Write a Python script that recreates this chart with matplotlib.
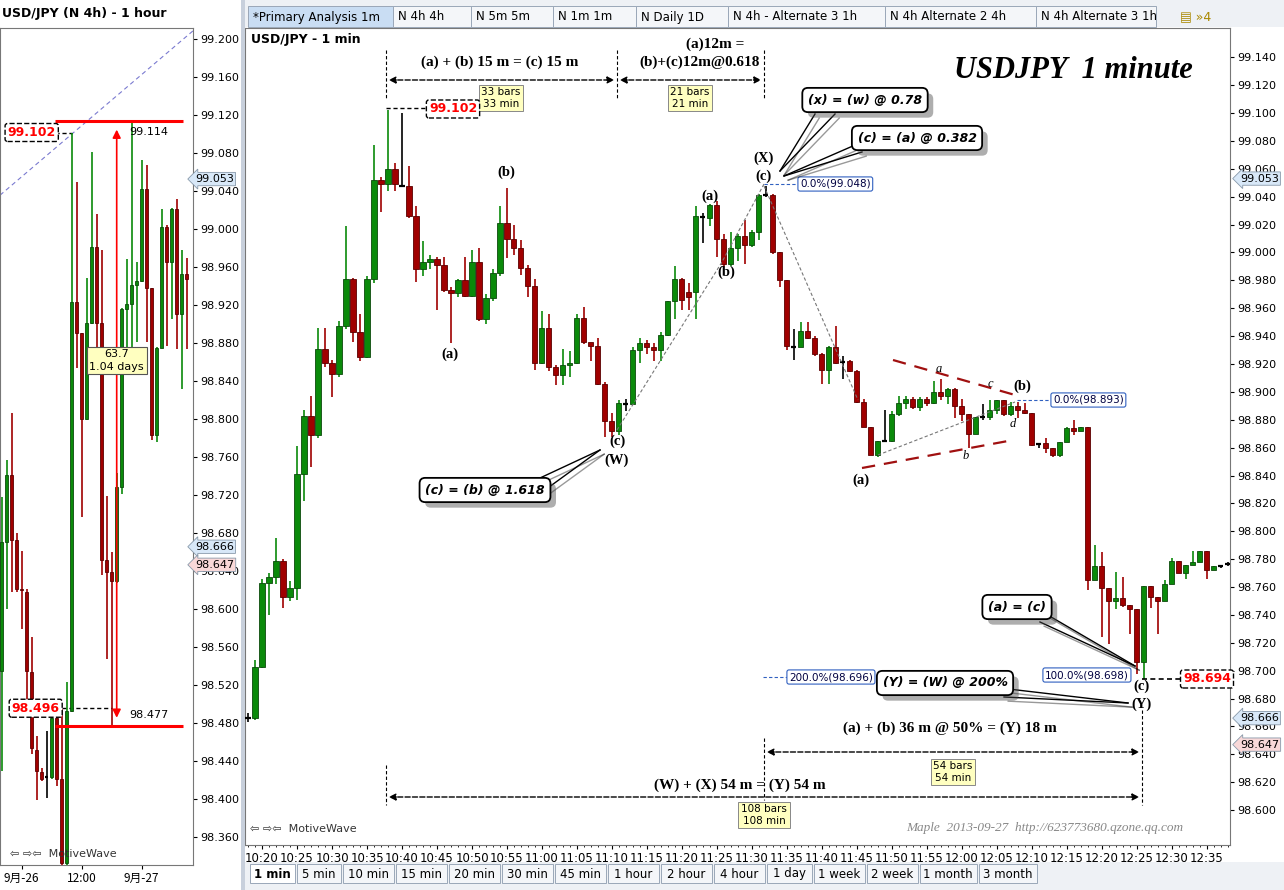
import matplotlib
matplotlib.use("Agg")
import matplotlib.pyplot as plt
import matplotlib.patheffects as pe
from matplotlib.lines import Line2D
from matplotlib.patches import Rectangle
from matplotlib.transforms import blended_transform_factory

W, H = 1284, 890

# 1 minute bars, first bar at 10:18
m_open = [98.666, 98.666, 98.703, 98.763, 98.767, 98.779, 98.753, 98.759, 98.841, 98.883,
          98.869, 98.931, 98.921, 98.913, 98.947, 98.981, 98.943, 98.925, 98.981, 99.052,
          99.049, 99.060, 99.048, 99.048, 99.026, 98.988, 98.993, 98.995, 98.991, 98.973,
          98.971, 98.980, 98.969, 98.993, 98.952, 98.967, 98.985, 99.021, 99.010, 99.003,
          98.989, 98.976, 98.921, 98.946, 98.918, 98.912, 98.919, 98.921, 98.953, 98.936,
          98.933, 98.906, 98.879, 98.872, 98.892, 98.891, 98.930, 98.935, 98.932, 98.930,
          98.941, 98.965, 98.981, 98.972, 98.972, 99.026, 99.025, 99.034, 99.010, 98.992,
          99.003, 99.012, 99.005, 99.015, 99.041, 99.041, 99.000, 98.980, 98.933, 98.932,
          98.944, 98.939, 98.927, 98.916, 98.932, 98.921, 98.922, 98.915, 98.893, 98.875,
          98.855, 98.865, 98.865, 98.884, 98.892, 98.895, 98.889, 98.895, 98.892, 98.900,
          98.897, 98.902, 98.890, 98.884, 98.870, 98.882, 98.882, 98.887, 98.894, 98.884,
          98.890, 98.887, 98.885, 98.862, 98.863, 98.860, 98.855, 98.864, 98.874, 98.872,
          98.875, 98.765, 98.775, 98.759, 98.750, 98.752, 98.747, 98.744, 98.706, 98.761,
          98.753, 98.750, 98.762, 98.779, 98.770, 98.776, 98.778, 98.786, 98.772, 98.775,
          98.776]
m_high = [98.670, 98.708, 98.766, 98.770, 98.795, 98.780, 98.764, 98.861, 98.887, 98.897,
          98.946, 98.946, 98.923, 98.951, 99.019, 98.982, 98.956, 98.983, 99.077, 99.054,
          99.102, 99.064, 99.100, 99.062, 99.033, 99.008, 98.998, 98.997, 98.997, 98.975,
          98.981, 98.997, 99.002, 99.003, 98.970, 98.988, 99.033, 99.046, 99.020, 99.009,
          98.991, 98.981, 98.958, 98.956, 98.919, 98.931, 98.929, 98.956, 98.961, 98.935,
          98.939, 98.907, 98.885, 98.894, 98.895, 98.932, 98.939, 98.937, 98.935, 98.943,
          98.965, 98.990, 98.982, 98.978, 99.033, 99.028, 99.035, 99.037, 99.013, 99.015,
          99.013, 99.023, 99.016, 99.042, 99.048, 99.042, 99.000, 98.980, 98.945, 98.950,
          98.950, 98.940, 98.928, 98.933, 98.947, 98.926, 98.923, 98.916, 98.895, 98.875,
          98.865, 98.887, 98.886, 98.897, 98.897, 98.896, 98.896, 98.896, 98.908, 98.909,
          98.903, 98.903, 98.895, 98.884, 98.882, 98.891, 98.894, 98.894, 98.894, 98.893,
          98.893, 98.892, 98.885, 98.863, 98.867, 98.860, 98.864, 98.875, 98.880, 98.875,
          98.875, 98.790, 98.785, 98.759, 98.771, 98.767, 98.747, 98.744, 98.761, 98.761,
          98.753, 98.765, 98.781, 98.779, 98.776, 98.786, 98.786, 98.786, 98.775, 98.776,
          98.778]
m_low = [98.663, 98.665, 98.702, 98.740, 98.762, 98.745, 98.750, 98.751, 98.822, 98.846,
         98.867, 98.918, 98.896, 98.911, 98.945, 98.936, 98.922, 98.924, 98.978, 99.029,
         99.044, 99.044, 99.047, 99.025, 98.979, 98.983, 98.988, 98.959, 98.972, 98.935,
         98.968, 98.968, 98.968, 98.951, 98.949, 98.965, 98.983, 98.996, 98.998, 98.984,
         98.968, 98.916, 98.920, 98.915, 98.905, 98.905, 98.911, 98.920, 98.934, 98.922,
         98.905, 98.868, 98.868, 98.869, 98.886, 98.891, 98.921, 98.927, 98.922, 98.922,
         98.940, 98.952, 98.959, 98.959, 98.952, 99.007, 99.019, 98.997, 98.990, 98.990,
         98.994, 98.992, 99.004, 99.009, 99.040, 98.999, 98.975, 98.930, 98.923, 98.932,
         98.938, 98.926, 98.906, 98.906, 98.920, 98.909, 98.914, 98.892, 98.875, 98.855,
         98.853, 98.864, 98.864, 98.883, 98.888, 98.888, 98.886, 98.890, 98.891, 98.894,
         98.891, 98.881, 98.879, 98.860, 98.870, 98.880, 98.880, 98.884, 98.883, 98.883,
         98.881, 98.884, 98.861, 98.860, 98.856, 98.853, 98.853, 98.864, 98.869, 98.872,
         98.758, 98.765, 98.724, 98.719, 98.744, 98.746, 98.726, 98.698, 98.694, 98.745,
         98.726, 98.750, 98.762, 98.770, 98.766, 98.776, 98.778, 98.766, 98.772, 98.774,
         98.775]
m_close = [98.666, 98.703, 98.763, 98.767, 98.779, 98.753, 98.759, 98.841, 98.883, 98.869,
           98.931, 98.921, 98.913, 98.947, 98.981, 98.943, 98.925, 98.981, 99.052, 99.049,
           99.060, 99.049, 99.048, 99.026, 98.988, 98.993, 98.995, 98.991, 98.973, 98.971,
           98.980, 98.969, 98.993, 98.952, 98.967, 98.985, 99.021, 99.010, 99.003, 98.989,
           98.976, 98.921, 98.946, 98.918, 98.912, 98.919, 98.921, 98.953, 98.936, 98.933,
           98.906, 98.879, 98.872, 98.892, 98.891, 98.930, 98.935, 98.932, 98.930, 98.941,
           98.965, 98.981, 98.966, 98.968, 99.026, 99.025, 99.034, 99.010, 98.992, 99.003,
           99.012, 99.005, 99.015, 99.041, 99.041, 99.000, 98.980, 98.933, 98.932, 98.944,
           98.939, 98.927, 98.916, 98.932, 98.921, 98.922, 98.915, 98.893, 98.875, 98.855,
           98.865, 98.865, 98.884, 98.892, 98.895, 98.889, 98.895, 98.892, 98.900, 98.897,
           98.902, 98.890, 98.884, 98.870, 98.882, 98.882, 98.887, 98.894, 98.884, 98.890,
           98.887, 98.885, 98.862, 98.863, 98.860, 98.855, 98.864, 98.874, 98.872, 98.875,
           98.765, 98.775, 98.759, 98.750, 98.752, 98.747, 98.744, 98.706, 98.761, 98.753,
           98.750, 98.762, 98.779, 98.770, 98.776, 98.778, 98.786, 98.772, 98.775, 98.775,
           98.777]
m_first_min = 10 * 60 + 18

# 1 hour bars (left panel)
h_open = [98.535, 98.671, 98.741, 98.673, 98.622, 98.618, 98.534, 98.452, 98.429, 98.423,
          98.424, 98.486, 98.422, 98.333, 98.493, 98.924, 98.891, 98.800, 98.902, 98.982,
          98.902, 98.652, 98.639, 98.630, 98.729, 98.916, 98.921, 98.942, 98.946, 99.043,
          98.938, 98.784, 98.875, 99.003, 98.966, 99.022, 98.911, 98.953]
h_high = [98.718, 98.757, 98.807, 98.680, 98.662, 98.622, 98.571, 98.467, 98.433, 98.472,
          98.487, 98.493, 98.495, 98.524, 99.102, 99.050, 98.891, 98.949, 99.081, 99.016,
          98.978, 98.719, 98.660, 98.744, 98.917, 98.969, 99.114, 98.966, 99.073, 99.068,
          98.938, 98.876, 99.022, 99.005, 99.023, 99.032, 98.978, 98.970]
h_low = [98.430, 98.600, 98.618, 98.618, 98.579, 98.503, 98.448, 98.399, 98.419, 98.401,
         98.422, 98.414, 98.330, 98.330, 98.492, 98.854, 98.697, 98.799, 98.900, 98.874,
         98.636, 98.548, 98.477, 98.628, 98.721, 98.875, 98.860, 98.882, 98.945, 98.882,
         98.778, 98.776, 98.875, 98.877, 98.906, 98.874, 98.832, 98.874]
h_close = [98.671, 98.741, 98.673, 98.621, 98.620, 98.535, 98.454, 98.430, 98.422, 98.424,
           98.486, 98.422, 98.333, 98.493, 98.924, 98.891, 98.800, 98.902, 98.982, 98.902,
           98.652, 98.639, 98.630, 98.729, 98.916, 98.921, 98.942, 98.946, 99.043, 98.938,
           98.784, 98.875, 99.003, 98.966, 99.022, 98.911, 98.953, 98.948]
h_ticks = [4, 16, 28]
h_tick_labels = ["9月-26", "12:00", "9月-27"]

top_tabs = ["*Primary Analysis 1m", "N 4h 4h", "N 5m 5m", "N 1m 1m", "N Daily 1D",
            "N 4h - Alternate 3 1h", "N 4h Alternate 2 4h", "N 4h Alternate 3 1h"]
bottom_tabs = ["1 min", "5 min", "10 min", "15 min", "20 min", "30 min", "45 min", "1 hour",
               "2 hour", "4 hour", "1 day", "1 week", "2 week", "1 month", "3 month"]

GREEN = "#0a8a0a"
RED = "#a00000"
CJK = "Noto Sans CJK SC"

fig = plt.figure(figsize=(W / 100, H / 100), dpi=100)
fig.patch.set_facecolor("white")


def txt(x, y, s, **kw):
    return fig.text(x / W, 1 - y / H, s, **kw)


def line(xs, ys, **kw):
    fig.add_artist(Line2D([x / W for x in xs], [1 - y / H for y in ys], **kw))


def rect(x, y, w, h, **kw):
    fig.add_artist(Rectangle((x / W, 1 - (y + h) / H), w / W, h / H, transform=fig.transFigure, **kw))


def candles(ax, o, h, l, c, width):
    for i in range(len(o)):
        if abs(c[i] - o[i]) < 0.0015:
            col = "black"
            ax.vlines(i, l[i], h[i], color=col, lw=1.2, zorder=3)
            ax.hlines((o[i] + c[i]) / 2, i - width / 2, i + width / 2, color=col, lw=1.6, zorder=3)
            continue
        col = GREEN if c[i] > o[i] else RED
        ax.vlines(i, l[i], h[i], color=col, lw=1.2, zorder=3)
        ax.add_patch(Rectangle((i - width / 2, min(o[i], c[i])), width, abs(c[i] - o[i]),
                               fc=col, ec="#0c4a0c" if col == GREEN else "#5a0000", lw=0.6, zorder=4))


# ---------------- left panel ----------------
axl = fig.add_axes([0, 1 - 865 / H, 193 / W, 837 / H])
candles(axl, h_open, h_high, h_low, h_close, 0.55)
axl.set_xlim(-0.34, 38.26)
axl.set_ylim(98.331, 99.212)
axl.yaxis.tick_right()
axl.set_yticks([99.2 - 0.04 * i for i in range(22)])
axl.set_yticklabels(["%.3f" % (99.2 - 0.04 * i) for i in range(22)], fontsize=8)
axl.set_xticks(h_ticks)
axl.set_xticklabels(h_tick_labels, fontsize=8.5, fontfamily=CJK)
axl.tick_params(length=3, pad=2)
for s in axl.spines.values():
    s.set_color("#777777")
# dashed blue diagonal, measure lines
axl.plot([-0.34, 38.26], [99.036, 99.209], ls=(0, (4, 3)), color="#7a7ad0", lw=0.8)
axl.hlines([99.114, 98.477], 10.6, 36.3, color="red", lw=2.2, zorder=5)
axl.annotate("", xy=(23, 99.108), xytext=(23, 98.483),
             arrowprops=dict(arrowstyle="<|-|>", color="red", lw=1.2, mutation_scale=12), zorder=5)
axl.text(25.5, 99.108, "99.114", fontsize=8, va="top")
axl.text(25.5, 98.484, "98.477", fontsize=8, va="bottom")
axl.text(23, 98.862, "63.7\n1.04 days", fontsize=8, ha="center", va="center", linespacing=1.3,
         bbox=dict(boxstyle="square,pad=0.25", fc="#ffffc0", ec="#555555", lw=0.8), zorder=6)
axl.hlines(99.102, 10.6, 14, color="black", lw=1, ls=(0, (3, 2)))
axl.hlines(98.496, 10.6, 22, color="black", lw=1, ls=(0, (3, 2)))
axl.text(6, 99.102, "99.102", color="red", fontsize=9, fontweight="bold", ha="center", va="center",
         bbox=dict(boxstyle="round,pad=0.2", fc="white", ec="black", ls="--", lw=1), zorder=6)
axl.text(6.8, 98.496, "98.496", color="red", fontsize=9, fontweight="bold", ha="center", va="center",
         bbox=dict(boxstyle="round,pad=0.2", fc="white", ec="black", ls="--", lw=1), zorder=6)
bl = blended_transform_factory(axl.transAxes, axl.transData)
for p, fc in [(99.053, "#d8e8f8"), (98.666, "#d8e8f8"), (98.647, "#f8d8d8")]:
    axl.text(1.01, p, "%.3f" % p, transform=bl, fontsize=8, va="center",
             bbox=dict(boxstyle="larrow,pad=0.15", fc=fc, ec="#8899aa", lw=0.6), zorder=7, clip_on=False)
txt(2, 13, "USD/JPY (N 4h) - 1 hour", fontsize=9, fontweight="bold", va="center")
txt(10, 854, "\u21e6 \u21e8\u21e6  MotiveWave", fontsize=8, va="center", color="#333333")

# separator between panels
rect(241, 0, 4, H, fc="#c8d0dc", ec="none")

# ---------------- main panel ----------------
ax = fig.add_axes([245 / W, 1 - 845 / H, 985 / W, 817 / H])
candles(ax, m_open, m_high, m_low, m_close, 0.72)
ax.set_xlim(-0.43, 140.3)
ax.set_ylim(98.575, 99.161)
ax.yaxis.tick_right()
yt = [99.14 - 0.02 * i for i in range(28)]
ax.set_yticks(yt)
ax.set_yticklabels(["%.3f" % v for v in yt], fontsize=8)
xt = [k for k in range(len(m_open)) if (m_first_min + k) % 5 == 0]
ax.set_xticks(xt)
ax.set_xticklabels(["%d:%02d" % divmod(m_first_min + k, 60) for k in xt], fontsize=8.5)
ax.set_xticks(range(len(m_open)), minor=True)
ax.tick_params(length=3, pad=2)
ax.tick_params(which="minor", length=1.5)
for s in ax.spines.values():
    s.set_color("#777777")
br = blended_transform_factory(ax.transAxes, ax.transData)
for p, fc in [(99.053, "#d8e8f8"), (98.666, "#d8e8f8"), (98.647, "#f8d8d8")]:
    ax.text(1.01, p, "%.3f" % p, transform=br, fontsize=8, va="center",
            bbox=dict(boxstyle="larrow,pad=0.15", fc=fc, ec="#8899aa", lw=0.6), zorder=7, clip_on=False)

txt(251, 39, "USD/JPY - 1 min", fontsize=9, fontweight="bold", va="center")
txt(1073, 70, "USDJPY  1 minute", fontsize=22, fontweight="bold", fontstyle="italic",
    fontfamily="Liberation Serif", ha="center", va="center")

serif = dict(fontfamily="Liberation Serif", fontweight="bold", ha="center", va="center")
# top dimension lines
txt(500, 62, "(a) + (b) 15 m = (c) 15 m", fontsize=11, **serif)
txt(715, 44, "(a)12m =", fontsize=11, **serif)
txt(700, 62, "(b)+(c)12m@0.618", fontsize=11, **serif)
for x in [386, 617, 764]:
    line([x, x], [50, 100], color="black", lw=0.8, ls=(0, (3, 2)))
for x0, x1 in [(386, 617), (617, 764)]:
    fig.add_artist(plt.Annotation("", xy=(x1, H - 80), xytext=(x0, H - 80), xycoords="figure pixels",
                                  arrowprops=dict(arrowstyle="<|-|>", color="black", lw=1, ls="--",
                                                  mutation_scale=10)))
yb = dict(fontsize=7.5, ha="center", va="center", linespacing=1.2,
          bbox=dict(boxstyle="square,pad=0.25", fc="#ffffc0", ec="#888888", lw=0.7))
txt(501, 98, "33 bars\n33 min", **yb)
txt(690, 98, "21 bars\n21 min", **yb)

# bottom dimension lines
txt(950, 728, "(a) + (b) 36 m @ 50% = (Y) 18 m", fontsize=11, **serif)
txt(740, 785, "(W) + (X) 54 m = (Y) 54 m", fontsize=11, **serif)
line([764, 764], [738, 800], color="black", lw=0.8, ls=(0, (3, 2)))
line([1142, 1142], [710, 805], color="black", lw=0.8, ls=(0, (3, 2)))
line([386, 386], [765, 805], color="black", lw=0.8, ls=(0, (3, 2)))
for x0, x1, y in [(764, 1142, 752), (386, 1142, 797)]:
    fig.add_artist(plt.Annotation("", xy=(x1, H - y), xytext=(x0, H - y), xycoords="figure pixels",
                                  arrowprops=dict(arrowstyle="<|-|>", color="black", lw=1, ls="--",
                                                  mutation_scale=10)))
txt(953, 772, "54 bars\n54 min", **yb)
txt(764, 815, "108 bars\n108 min", **yb)

# high / low price labels
line([386, 430], [108, 108], color="black", lw=1, ls=(0, (3, 2)))
txt(453, 109, "99.102", color="red", fontsize=9, fontweight="bold", ha="center", va="center",
    bbox=dict(boxstyle="round,pad=0.2", fc="white", ec="black", ls="--", lw=1))
line([1142, 1185], [679, 679], color="black", lw=1.2, ls=(0, (3, 2)))
txt(1207, 679, "98.694", color="red", fontsize=9, fontweight="bold", ha="center", va="center",
    bbox=dict(boxstyle="round,pad=0.2", fc="white", ec="black", ls="--", lw=1))

# wave labels
for x, y, s in [(506, 172, "(b)"), (450, 354, "(a)"), (617, 441, "(c)"), (617, 460, "(W)"),
                (710, 196, "(a)"), (726, 272, "(b)"), (764, 176, "(c)"), (764, 158, "(X)"),
                (861, 480, "(a)"), (1022, 386, "(b)"), (1141, 686, "(c)"), (1142, 704, "(Y)")]:
    txt(x, y, s, fontsize=10.5, **serif)
for x, y, s in [(939, 369, "a"), (990, 384, "c"), (966, 456, "b"), (1013, 424, "d")]:
    txt(x, y, s, fontsize=9, fontstyle="italic", fontfamily="Liberation Serif", ha="center", va="center")

# zigzag and triangle
gz = dict(color="#777777", lw=0.8, ls=(0, (3, 2)))
line([617, 722, 764], [430, 262, 184], **gz)
line([764, 858], [186, 400], **gz)
line([878, 1015], [455, 402], **gz)
tr = dict(color="#a01010", lw=1.6, ls=(0, (6, 4)))
line([893, 1015], [360, 395], **tr)
line([862, 1008], [468, 441], **tr)

# fib labels
fb = dict(fontsize=7.5, color="#000040", ha="left", va="center",
          bbox=dict(boxstyle="round,pad=0.2", fc="white", ec="#3060c0", lw=0.8))
bl_ = dict(color="#3060c0", lw=0.8, ls=(0, (3, 2)))
line([764, 797], [184, 184], **bl_)
txt(800, 184, "0.0%(99.048)", **fb)
line([1017, 1050], [400, 400], **bl_)
txt(1053, 400, "0.0%(98.893)", **fb)
line([763, 787], [677, 677], **bl_)
txt(789, 677, "200.0%(98.696)", **fb)
line([1043, 1065], [675, 675], **bl_)
txt(1045, 675, "100.0%(98.698)", **fb)

# callouts
def callout(cx, cy, s, p1, p2, tip):
    t = txt(cx, cy, s, fontsize=9, fontweight="bold", fontstyle="italic", ha="center", va="center",
            bbox=dict(boxstyle="round,pad=0.45", fc="white", ec="black", lw=1.3), zorder=10)
    t.get_bbox_patch().set_path_effects([pe.SimplePatchShadow(offset=(4, -4), alpha=0.45), pe.Normal()])
    for p in (p1, p2):
        line([p[0], tip[0]], [p[1], tip[1]], color="black", lw=1, zorder=9,
             path_effects=[pe.SimpleLineShadow(offset=(3, -3), alpha=0.4), pe.Normal()])


callout(865, 100, "(x) = (w) @ 0.78", (815, 114), (835, 114), (780, 171))
callout(917, 138, "(c) = (a) @ 0.382", (862, 142), (862, 152), (784, 176))
callout(485, 490, "(c) = (b) @ 1.618", (540, 478), (545, 490), (600, 450))
callout(1017, 607, "(a) = (c)", (1040, 622), (1046, 614), (1135, 666))
callout(945, 683, "(Y) = (W) @ 200%", (1000, 688), (1004, 697), (1128, 703))

txt(1045, 828, "Maple  2013-09-27  http://623773680.qzone.qq.com", fontsize=9.5, color="#888888",
    fontstyle="italic", fontfamily="Liberation Serif", ha="center", va="center")
txt(250, 829, "\u21e6 \u21e8\u21e6  MotiveWave", fontsize=8, va="center", color="#333333")

# ---------------- top tab bar ----------------
rect(245, 0, W - 245, 27, fc="#eef1f5", ec="none")
tab_x = [248, 393, 471, 553, 636, 728, 885, 1036]
tab_w = [145, 78, 82, 83, 92, 157, 151, 120]
for i, (x, w, s) in enumerate(zip(tab_x, tab_w, top_tabs)):
    rect(x, 6, w, 21, fc="#c9ddf3" if i == 0 else "#f4f6f9", ec="#9aa7b8", lw=0.7)
    txt(x + 5, 17, s, fontsize=8.5, va="center")
txt(1180, 17, "\u25a4 \u00bb4", fontsize=9, va="center", color="#aa8800")

# ---------------- bottom tab bar ----------------
rect(245, 862, W - 245, 28, fc="#eef1f5", ec="none")
x = 250
for i, s in enumerate(bottom_tabs):
    w = 12 + 6.5 * len(s)
    rect(x, 864, w, 19, fc="white" if i == 0 else "#f4f6f9", ec="#9aa7b8", lw=0.7)
    txt(x + w / 2, 874, s, fontsize=8.5, ha="center", va="center",
        fontweight="bold" if i == 0 else "normal")
    x += w + 2

fig.savefig("out.png", dpi=100)
